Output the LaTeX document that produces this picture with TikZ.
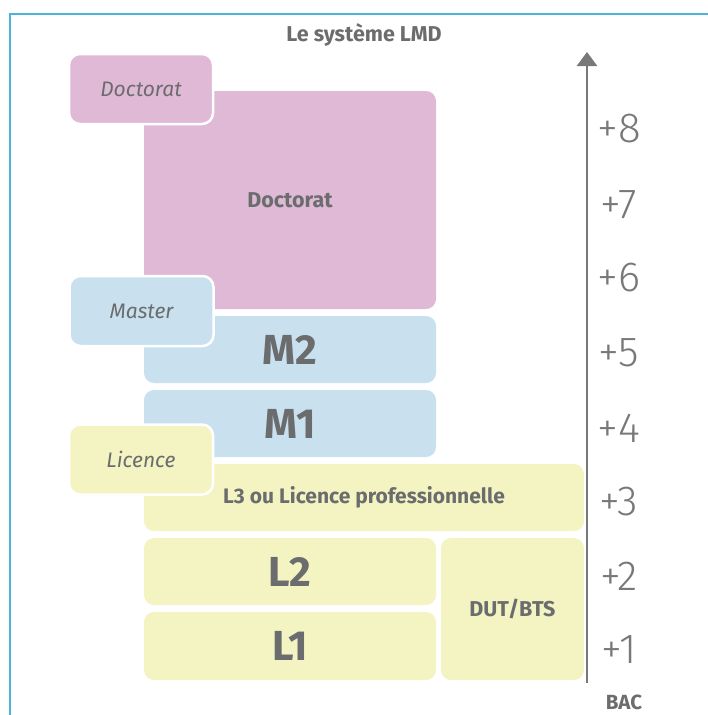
\documentclass[tikz,border=0pt]{standalone}
\usepackage{fontspec}
\setmainfont{Fira Sans}
\newfontfamily\yearfont{Fira Sans}[UprightFont=* Light]
\usetikzlibrary{arrows.meta}
\definecolor{lmdpink}{HTML}{E0B9D6}
\definecolor{lmdblue}{HTML}{C9E1EF}
\definecolor{lmdyellow}{HTML}{F3F4C1}
\definecolor{lmdtext}{HTML}{6B6C6E}
\definecolor{lmdgrey}{HTML}{77787A}
\definecolor{lmdframe}{HTML}{4FB3D9}
\begin{document}
\begin{tikzpicture}[
    x=1pt, y=-1pt,
    every node/.style={text=lmdtext, inner sep=0pt},
    level/.style={rounded corners=10pt, align=center, font=\bfseries\fontsize{21.5}{24}\selectfont},
    bigyear/.style={level, font=\bfseries\fontsize{42}{46}\selectfont},
    tab/.style={rounded corners=11pt, draw=white, line width=2.5pt, minimum width=144pt, minimum height=70pt, font=\itshape\fontsize{21}{24}\selectfont},
    years/.style={text=lmdgrey, font=\yearfont\fontsize{42}{46}\selectfont}
    ]
    \useasboundingbox (0,0) rectangle (708,715);
    % frame
    \draw[lmdframe, line width=1.2pt] (10,715) -- (10,14) -- (708,14);
    \node[font=\bfseries\fontsize{21.5}{24}\selectfont] (title) at (364,35) {Le système LMD};
    % levels
    \node[level, fill=lmdpink, minimum width=292pt, minimum height=218pt] (doc) at (290,200) {Doctorat};
    \node[bigyear, fill=lmdblue, minimum width=292pt, minimum height=67pt] (m2) at (290,349.5) {M2};
    \node[bigyear, fill=lmdblue, minimum width=292pt, minimum height=67pt] (m1) at (290,423.5) {M1};
    \node[level, fill=lmdyellow, minimum width=440pt, minimum height=67pt, font=\bfseries\fontsize{21}{24}\selectfont] (l3) at (364,497.5) {L3 ou Licence professionnelle};
    \node[bigyear, fill=lmdyellow, minimum width=292pt, minimum height=67pt] (l2) at (290,571.5) {L2};
    \node[bigyear, fill=lmdyellow, minimum width=292pt, minimum height=68pt] (l1) at (290,646) {L1};
    \node[level, fill=lmdyellow, minimum width=143pt, minimum height=142pt] (dut) at (512.5,609) {DUT/BTS};
    % tabs
    \node[tab, fill=lmdpink] (tabdoc) at (141,89) {Doctorat};
    \node[tab, fill=lmdblue] (tabmaster) at (141.5,311) {Master};
    \node[tab, fill=lmdyellow] (tablicence) at (141,459.5) {Licence};
    % axis
    \coordinate (axbot) at (587,683);
    \coordinate (axtop) at (587,52);
    \draw[lmdgrey, line width=2.5pt, -{Triangle[length=14pt, width=20pt]}] (axbot) -- (axtop);
    \foreach \n/\y in {1/650, 2/576, 3/502, 4/428, 5/353, 6/278, 7/205, 8/129}
      \node[years] (yr\n) at (619,\y) {+\n};
    \node[font=\bfseries\fontsize{20.5}{23}\selectfont] (bac) at (624,702) {BAC};
\end{tikzpicture}
\end{document}
